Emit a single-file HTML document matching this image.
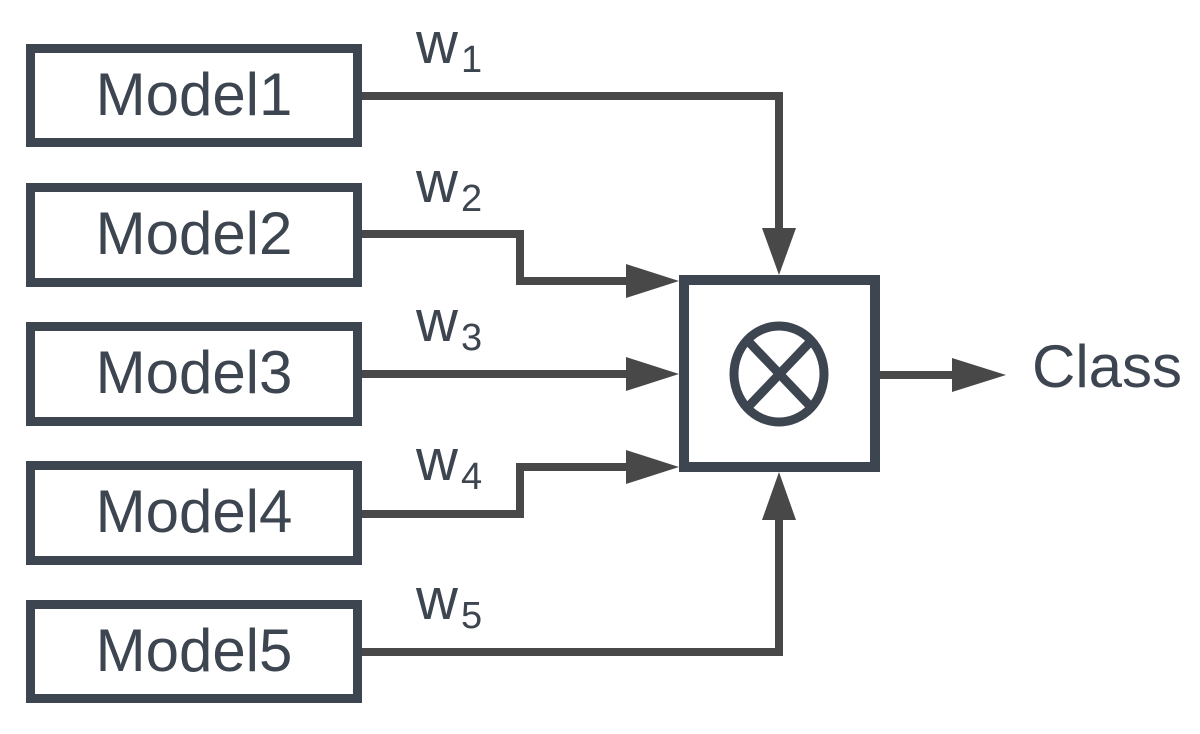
<!DOCTYPE html>
<html><head><style>
html,body{margin:0;padding:0;background:#fff;}
svg{display:block;}
text{font-family:"Liberation Sans",Arial,sans-serif;fill:#3d4650;}
</style></head><body>
<svg width="1200" height="734" viewBox="0 0 1200 734" xmlns="http://www.w3.org/2000/svg">
<g fill="none" stroke="#3d4650" stroke-width="9">
<rect x="30.5" y="48.5" width="327" height="94"/>
<rect x="30.5" y="187.5" width="327" height="95"/>
<rect x="30.5" y="326.5" width="327" height="95"/>
<rect x="30.5" y="465.5" width="327" height="95"/>
<rect x="30.5" y="604.5" width="327" height="94"/>
<rect x="684" y="280" width="191" height="187" stroke-width="10"/>
<ellipse cx="779" cy="374" rx="45" ry="48" stroke-width="9"/>
<line x1="748" y1="341" x2="811" y2="407"/>
<line x1="811" y1="341" x2="748" y2="407"/>
</g>
<g fill="none" stroke="#484848" stroke-width="8">
<polyline points="362,96 779,96 779,232"/>
<polyline points="362,234 520,234 520,281 630,281"/>
<line x1="362" y1="374" x2="630" y2="374"/>
<polyline points="362,514 520,514 520,467 630,467"/>
<polyline points="362,652 779,652 779,516"/>
<line x1="880" y1="375" x2="956" y2="375"/>
</g>
<g fill="#484848">
<polygon points="626,264 679,281 626,298"/>
<polygon points="626,357 679,374 626,391"/>
<polygon points="626,450 679,467 626,484"/>
<polygon points="762,228 796,228 779,275"/>
<polygon points="762,520 796,520 779,472"/>
<polygon points="952,358 1006,375 952,392"/>
</g>
<g font-size="60" text-anchor="middle">
<text x="194" y="115">Model1</text>
<text x="194" y="254">Model2</text>
<text x="194" y="393">Model3</text>
<text x="194" y="532">Model4</text>
<text x="194" y="671">Model5</text>
</g>
<text x="1032" y="387" font-size="60">Class</text>
<g font-size="58">
<text x="416" y="63">w</text>
<text x="416" y="202">w</text>
<text x="416" y="341">w</text>
<text x="416" y="480">w</text>
<text x="416" y="619">w</text>
</g>
<g font-size="38">
<text x="461" y="72">1</text>
<text x="461" y="211">2</text>
<text x="461" y="350">3</text>
<text x="461" y="489">4</text>
<text x="461" y="628">5</text>
</g>
</svg>
</body></html>
